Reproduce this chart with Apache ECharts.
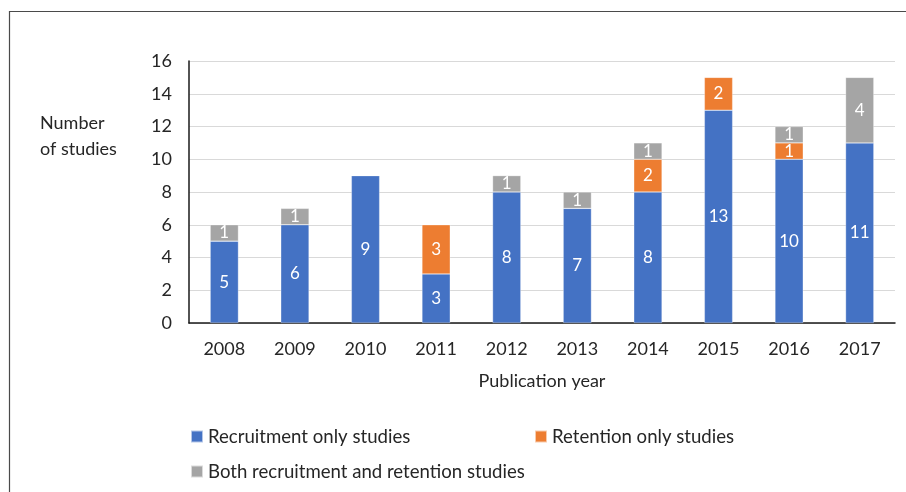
<!DOCTYPE html>
<html>
<head>
<meta charset="utf-8">
<script src="https://cdn.jsdelivr.net/npm/echarts@6/dist/echarts.min.js"></script>
<style>
  html, body { margin: 0; padding: 0; background: #fff; }
  #chart { width: 906px; height: 492px; }
</style>
</head>
<body>
<div id="chart"></div>
<script>
// Studies per publication year, split by study type
const years = ['2008', '2009', '2010', '2011', '2012', '2013', '2014', '2015', '2016', '2017'];
const recruitmentOnly = [5, 6, 9, 3, 8, 7, 8, 13, 10, 11];
const retentionOnly = [0, 0, 0, 3, 0, 0, 2, 2, 1, 0];
const bothTypes = [1, 1, 0, 0, 1, 1, 1, 0, 1, 4];
const seriesNames = ['Recruitment only studies', 'Retention only studies', 'Both recruitment and retention studies'];
const seriesColors = ['#4472C4', '#ED7D31', '#A5A5A5'];

const FONT = 'Lato, "Open Sans", sans-serif';
const TEXT = '#262626';

const chart = echarts.init(document.getElementById('chart'), null, { renderer: 'canvas' });

function barSeries(name, values, color) {
  return {
    name: name,
    type: 'bar',
    stack: 'total',
    barWidth: '40%',
    data: values.map(v => (v === 0 ? null : v)),
    itemStyle: { color: color, borderColor: 'rgba(255,255,255,0.6)', borderWidth: 0.5 },
    label: {
      show: true,
      position: 'inside',
      color: '#ffffff',
      fontFamily: FONT,
      fontSize: 17
    },
    emphasis: { disabled: true }
  };
}

function legendItem(name, left, top) {
  return {
    data: [name],
    left: left,
    top: top,
    itemWidth: 12,
    itemHeight: 12,
    itemGap: 0,
    icon: 'rect',
    textStyle: { fontFamily: FONT, fontSize: 18.6, color: TEXT, padding: [0, 0, 0, 0] },
    selectedMode: false
  };
}

chart.setOption({
  animation: false,
  backgroundColor: '#ffffff',
  grid: { left: 189, right: 11, top: 61, bottom: 169, containLabel: false },
  legend: [
    legendItem(seriesNames[0], 185, 422),
    legendItem(seriesNames[1], 529, 422),
    legendItem(seriesNames[2], 185, 457)
  ],
  graphic: [
    {
      type: 'polyline',
      silent: true,
      shape: { points: [[9.5, 495], [9.5, 11.5], [910, 11.5]] },
      style: { stroke: '#4a4a4a', lineWidth: 1.2, fill: null }
    },
    {
      type: 'text',
      left: 40,
      top: 110,
      silent: true,
      style: {
        text: 'Number\nof studies',
        fontFamily: FONT,
        fontSize: 18,
        lineHeight: 26,
        fill: TEXT
      }
    }
  ],
  xAxis: {
    type: 'category',
    data: years,
    name: 'Publication year',
    nameLocation: 'middle',
    nameGap: 49,
    nameTextStyle: { fontFamily: FONT, fontSize: 18, color: TEXT },
    axisLine: { lineStyle: { color: '#1a1a1a', width: 1.5 } },
    axisTick: { show: false },
    axisLabel: { fontFamily: FONT, fontSize: 18, color: TEXT, margin: 17 }
  },
  yAxis: {
    type: 'value',
    min: 0,
    max: 16,
    interval: 2,
    axisLine: { show: true, lineStyle: { color: '#1a1a1a', width: 1.5 } },
    axisTick: { show: false },
    axisLabel: { fontFamily: FONT, fontSize: 18, color: TEXT, margin: 17 },
    splitLine: { lineStyle: { color: '#d9d9d9', width: 1.2 } }
  },
  series: [
    barSeries(seriesNames[0], recruitmentOnly, seriesColors[0]),
    barSeries(seriesNames[1], retentionOnly, seriesColors[1]),
    barSeries(seriesNames[2], bothTypes, seriesColors[2])
  ]
});
</script>
</body>
</html>
